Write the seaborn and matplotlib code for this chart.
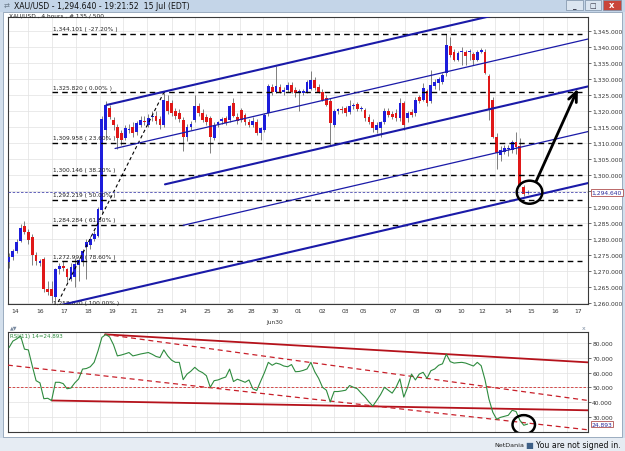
import numpy as np
import pandas as pd
import matplotlib
matplotlib.use("Agg")
import matplotlib.pyplot as plt
import matplotlib.transforms as mtransforms
from matplotlib.patches import Ellipse, Rectangle
import seaborn as sns

# ---------------- data ----------------
opens = [
    1272.8, 1274.3, 1276.4, 1279.4, 1284.0, 1282.3, 1280.5, 1275.0, 1272.6, 1273.8,
    1264.5, 1264.4, 1261.8, 1270.5, 1271.6, 1270.5, 1267.6, 1268.2, 1271.8, 1272.8,
    1277.6, 1278.0, 1280.1, 1281.1, 1289.0, 1314.0, 1321.0, 1317.2, 1315.0, 1313.0,
    1311.5, 1314.0, 1315.0, 1313.5, 1315.6, 1317.0, 1315.6, 1318.0, 1318.5, 1317.5,
    1315.5, 1323.0, 1322.4, 1320.0, 1319.3, 1317.2, 1312.0, 1315.0, 1317.2, 1321.5,
    1319.5, 1318.0, 1317.7, 1311.5, 1316.0, 1316.8, 1317.7, 1317.2, 1322.4, 1318.3,
    1320.3, 1318.8, 1316.7, 1315.8, 1316.7, 1313.0, 1314.0, 1319.3, 1327.4, 1326.1,
    1327.4, 1326.0, 1326.6, 1328.0, 1326.6, 1325.6, 1325.8, 1326.1, 1327.0, 1329.7,
    1327.5, 1326.1, 1324.0, 1323.0, 1315.6, 1320.0, 1320.5, 1320.9, 1319.8, 1321.7,
    1322.1, 1320.6, 1320.3, 1318.3, 1316.7, 1314.0, 1314.6, 1316.7, 1320.0, 1319.0,
    1319.5, 1317.7, 1322.4, 1317.7, 1319.6, 1319.3, 1324.5, 1323.5, 1326.3, 1323.0,
    1327.7, 1328.7, 1329.2, 1331.8, 1340.2, 1338.6, 1336.0, 1338.5, 1338.6, 1338.4,
    1337.8, 1336.0, 1338.6, 1338.6, 1331.0, 1323.5, 1312.0, 1306.2, 1307.2, 1308.0,
    1307.8, 1310.4, 1309.0, 1296.3, 1294.3]
highs = [
    1275.5, 1277.0, 1280.0, 1284.8, 1285.5, 1283.0, 1281.5, 1276.0, 1273.8, 1274.5,
    1267.0, 1267.0, 1271.0, 1272.5, 1273.0, 1271.0, 1272.5, 1274.0, 1274.0, 1277.0,
    1280.0, 1281.0, 1282.5, 1290.0, 1318.5, 1323.0, 1322.0, 1318.0, 1316.0, 1314.0,
    1315.5, 1316.0, 1316.5, 1317.0, 1318.5, 1318.5, 1319.0, 1320.0, 1320.0, 1318.5,
    1325.8, 1325.0, 1323.5, 1321.0, 1320.5, 1318.0, 1316.0, 1317.0, 1325.0, 1322.5,
    1320.5, 1319.0, 1318.5, 1316.5, 1317.0, 1318.0, 1318.5, 1322.0, 1324.0, 1319.5,
    1321.0, 1319.5, 1317.5, 1318.0, 1317.5, 1315.0, 1319.5, 1328.5, 1328.5, 1334.0,
    1328.5, 1327.5, 1329.0, 1329.0, 1327.5, 1327.0, 1327.0, 1329.8, 1332.4, 1330.5,
    1328.5, 1326.8, 1325.0, 1324.0, 1320.5, 1321.0, 1321.5, 1321.5, 1323.5, 1322.5,
    1322.8, 1321.5, 1321.0, 1319.0, 1317.5, 1316.5, 1317.0, 1321.0, 1321.0, 1320.0,
    1320.5, 1324.0, 1323.0, 1320.0, 1320.5, 1324.5, 1325.0, 1328.7, 1327.0, 1332.9,
    1330.0, 1330.5, 1331.8, 1344.1, 1343.0, 1339.5, 1338.8, 1340.0, 1339.0, 1339.5,
    1338.5, 1339.0, 1339.8, 1339.5, 1331.5, 1324.5, 1313.0, 1309.0, 1309.5, 1309.5,
    1311.0, 1313.6, 1311.5, 1296.8, 1295.3]
lows = [
    1271.0, 1273.5, 1275.5, 1279.0, 1281.5, 1278.5, 1272.0, 1272.0, 1271.5, 1263.5,
    1262.5, 1260.0, 1258.6, 1269.0, 1270.0, 1266.5, 1267.0, 1265.0, 1267.0, 1271.5,
    1267.6, 1277.0, 1279.5, 1280.5, 1288.0, 1311.0, 1317.5, 1314.0, 1308.3, 1309.5,
    1311.0, 1313.0, 1312.0, 1312.5, 1315.0, 1315.5, 1315.0, 1317.0, 1316.0, 1314.5,
    1315.0, 1319.0, 1318.5, 1317.5, 1316.5, 1307.4, 1310.5, 1314.0, 1316.5, 1318.5,
    1316.5, 1315.5, 1306.8, 1311.0, 1315.0, 1316.0, 1315.5, 1316.5, 1318.0, 1316.0,
    1316.5, 1315.5, 1315.0, 1315.0, 1312.5, 1311.0, 1313.5, 1318.5, 1325.0, 1325.5,
    1325.5, 1325.0, 1326.0, 1325.5, 1324.5, 1320.0, 1325.0, 1325.5, 1326.5, 1326.5,
    1325.5, 1323.0, 1321.5, 1309.4, 1315.0, 1319.0, 1319.5, 1318.5, 1319.0, 1320.5,
    1320.0, 1320.0, 1317.0, 1316.0, 1313.5, 1313.0, 1312.0, 1316.0, 1318.0, 1317.5,
    1317.0, 1317.0, 1314.0, 1316.5, 1318.0, 1318.5, 1322.5, 1323.0, 1321.5, 1322.5,
    1327.0, 1326.5, 1328.5, 1331.0, 1337.0, 1335.5, 1335.5, 1334.5, 1334.5, 1336.0,
    1334.5, 1335.5, 1338.0, 1331.5, 1317.2, 1311.5, 1302.0, 1304.5, 1306.5, 1306.0,
    1307.0, 1306.5, 1296.5, 1293.5, 1294.0]
closes = [
    1274.3, 1276.4, 1279.2, 1283.5, 1282.3, 1279.6, 1275.0, 1273.0, 1273.2, 1264.5,
    1263.5, 1262.3, 1270.5, 1271.5, 1271.0, 1268.0, 1271.3, 1272.3, 1273.3, 1276.4,
    1279.0, 1280.1, 1281.7, 1289.5, 1317.5, 1322.0, 1318.3, 1315.6, 1311.5, 1311.0,
    1314.6, 1314.5, 1313.0, 1316.2, 1317.2, 1316.5, 1317.7, 1318.5, 1317.0, 1315.5,
    1323.5, 1320.0, 1319.3, 1318.4, 1317.5, 1312.0, 1315.0, 1316.0, 1321.5, 1319.3,
    1317.2, 1316.5, 1312.0, 1315.6, 1316.5, 1317.4, 1316.2, 1321.5, 1318.5, 1317.0,
    1317.2, 1316.7, 1315.8, 1317.0, 1313.0, 1314.6, 1318.8, 1327.7, 1326.1, 1327.7,
    1326.1, 1326.5, 1328.2, 1326.1, 1325.6, 1326.2, 1326.4, 1329.2, 1329.7, 1327.1,
    1326.1, 1323.5, 1322.0, 1316.2, 1320.0, 1320.5, 1320.2, 1319.3, 1321.7, 1322.0,
    1320.6, 1321.0, 1317.7, 1316.7, 1314.6, 1315.8, 1316.5, 1320.0, 1318.8, 1318.0,
    1317.7, 1322.4, 1315.6, 1319.3, 1318.7, 1323.5, 1323.0, 1327.1, 1322.4, 1328.2,
    1329.2, 1330.0, 1331.3, 1340.7, 1337.6, 1336.0, 1338.1, 1338.8, 1337.2, 1338.8,
    1336.0, 1338.6, 1339.2, 1331.8, 1320.5, 1312.0, 1306.8, 1307.8, 1308.5, 1308.3,
    1310.4, 1308.9, 1296.8, 1294.2, 1294.64]
rsi = [
    77.0, 81.5, 83.0, 85.0, 76.0, 75.5, 64.7, 54.5, 53.0, 42.2,
    42.5, 41.0, 53.4, 53.4, 52.5, 49.0, 49.5, 53.0, 55.7, 62.4,
    62.8, 64.0, 67.0, 74.8, 84.0, 86.0, 84.3, 79.0, 71.4, 72.0,
    72.8, 73.7, 71.4, 72.0, 72.7, 73.2, 73.7, 72.5, 71.0, 70.3,
    75.5, 71.4, 68.5, 67.0, 67.0, 55.2, 59.0, 61.0, 63.6, 61.3,
    60.0, 57.9, 50.0, 54.5, 55.0, 56.1, 57.0, 62.4, 53.9, 55.5,
    54.5, 53.4, 55.0, 49.0, 47.8, 54.0, 60.0, 67.0, 65.0, 66.5,
    65.8, 64.5, 64.0, 65.5, 60.6, 60.8, 61.5, 62.5, 67.0, 60.6,
    56.1, 50.0, 48.0, 40.0, 47.1, 47.1, 47.5, 48.0, 51.2, 50.0,
    49.0, 46.0, 43.3, 40.0, 37.2, 41.0, 45.0, 50.0, 48.0, 46.0,
    50.0, 55.7, 43.3, 50.0, 59.0, 55.0, 59.0, 60.2, 56.1, 61.3,
    62.5, 65.0, 66.0, 72.6, 67.5, 66.5, 66.8, 67.0, 66.5, 65.5,
    64.5, 67.0, 64.7, 55.0, 42.0, 33.0, 28.2, 29.5, 30.2, 30.9,
    34.3, 33.5, 27.5, 24.1, 24.893]

date_labels = ["14", "16", "17", "18", "19", "21", "23", "24", "25", "26", "28", "30",
               "01", "02", "03", "05", "07", "08", "09", "10", "12", "14", "15", "16", "17"]
date_pos = [1.6, 8.0, 14.2, 20.4, 26.6, 32.3, 39.0, 45.0, 51.2, 57.1, 62.5, 68.7,
            74.7, 81.1, 86.8, 91.7, 99.2, 105.2, 110.9, 116.8, 122.2, 128.9, 134.9, 141.1, 147.0]

fib_levels = [1344.101, 1325.820, 1309.958, 1300.146, 1292.219, 1284.284, 1272.993, 1258.620]
fib_pcts = ["-27.20%", "0.00%", "23.60%", "38.20%", "50.00%", "61.80%", "78.60%", "100.00%"]
fib_start, fib_end = 11.0, 148.0
fib_swing = [(12.0, 1258.62), (40.0, 1325.82)]

# parallel channel (start bar, start price, width)
chan_slope = 0.28
chan_start_bar = [25.2, 27.4, 40.3, 45.0, 11.4]
chan_start_price = [1321.9, 1308.3, 1297.1, 1284.3, 1258.8]
chan_width = [1.5, 0.9, 1.5, 0.9, 1.5]

last_price = 1294.640
target_bar = 147.0

# RSI trend lines: (x0, y0, x1, y1)
rsi_solid = [(24.8, 86.1, 149.6, 67.0), (11.0, 41.0, 149.6, 34.3)]
rsi_dashed = [(24.8, 86.1, 149.6, 41.0), (-0.3, 65.1, 149.6, 21.0)]

# ---------------- figure ----------------
sns.set_style("white")
plt.rcParams["font.family"] = ["DejaVu Sans"]

W, H = 625, 452
fig = plt.figure(figsize=(6.25, 4.52), dpi=100)
fig.patch.set_facecolor("#d3dfec")

def fx(px):
    return px / W

def fy(py):
    return 1 - py / H

# window chrome (behind the axes)
fig.patches.append(Rectangle((0, fy(13)), 1, 13 / H, transform=fig.transFigure,
                             facecolor="#c4d5e8", edgecolor="none", zorder=-10))
fig.patches.append(Rectangle((fx(3), fy(438)), fx(619), (438 - 13) / H, transform=fig.transFigure,
                             facecolor="white", edgecolor="#8fa2b8", lw=0.6, zorder=-10))
fig.patches.append(Rectangle((0, 0), 1, 13 / H, transform=fig.transFigure,
                             facecolor="#e6ecf3", edgecolor="none", zorder=-10))
for x0, x1, fc in [(566, 583, "#dbe5f0"), (585, 601, "#dbe5f0"), (603, 621, "#c9453a")]:
    fig.patches.append(Rectangle((fx(x0), fy(11)), fx(x1 - x0), 10 / H, transform=fig.transFigure,
                                 facecolor=fc, edgecolor="#7b8ea5", lw=0.5, zorder=-5))
fig.text(fx(574.5), fy(6.5), "_", ha="center", va="center", fontsize=5, color="#334", fontweight="bold")
fig.text(fx(593), fy(6), "\u25a1", ha="center", va="center", fontsize=5, color="#334")
fig.text(fx(612), fy(6), "x", ha="center", va="center", fontsize=6, color="white", fontweight="bold")
fig.text(fx(4), fy(6.5), "\u21c4", ha="left", va="center", fontsize=5, color="#6a7a8a")
fig.text(fx(14), fy(6.5), "XAU/USD - 1,294.640 - 19:21:52  15 Jul (EDT)", ha="left", va="center",
         fontsize=5.6, color="#111111")
fig.text(fx(9), fy(15.5), "XAU/USD , 4 hours , # 135 / 500", ha="left", va="center",
         fontsize=4.2, color="#222222")

# ---------------- main price panel ----------------
ax = fig.add_axes([fx(8), fy(305), fx(580), (305 - 18) / H])
ax.set_facecolor("white")
idx = np.arange(len(closes))
df = pd.DataFrame({"i": idx, "open": opens, "high": highs, "low": lows, "close": closes})
up = df["close"] >= df["open"]
body_lo = np.minimum(df["open"], df["close"])
body_h = np.maximum((df["close"] - df["open"]).abs(), 0.35)

ax.vlines(df["i"], df["low"], df["high"], color="#6b6b6b", lw=0.6, zorder=2)
ax.bar(df["i"], body_h, bottom=body_lo, width=0.72,
       color=np.where(up, "#1d1ddb", "#e01818"), edgecolor="none", zorder=3)

ax.set_xlim(-0.26, 149.6)
ax.set_ylim(1259.7, 1349.4)

# fib levels
for lev, pct in zip(fib_levels, fib_pcts):
    ax.plot([fib_start, fib_end], [lev, lev], color="black", lw=1.0, ls=(0, (4, 3)), zorder=4)
    ax.text(fib_start + 0.3, lev + 0.9, f"{lev:,.3f} ( {pct} )", fontsize=4.2, color="#222222",
            ha="left", va="bottom", zorder=5)
ax.plot([p[0] for p in fib_swing], [p[1] for p in fib_swing], color="black", lw=0.8,
        ls=(0, (3, 2.5)), zorder=4)

# channel lines
end_bar = 149.6
for b0, p0, w in zip(chan_start_bar, chan_start_price, chan_width):
    seg = pd.DataFrame({"x": [b0, end_bar], "y": [p0, p0 + chan_slope * (end_bar - b0)]})
    sns.lineplot(data=seg, x="x", y="y", ax=ax, color="#1a1aa8", lw=w, zorder=5)

# current price line
ax.axhline(last_price, color="#4a4ab0", lw=0.6, ls=(0, (3, 2)), zorder=4)

# circle + arrow
ax.add_patch(Ellipse((idx[-1] + 0.5, last_price), 6.6, 7.2, fill=False, ec="black", lw=1.8, zorder=6))
tgt_price = chan_start_price[2] + chan_slope * (target_bar - chan_start_bar[2])
ax.annotate("", xy=(target_bar, tgt_price), xytext=(idx[-1] + 2.2, last_price + 3.4),
            arrowprops=dict(arrowstyle="->,head_length=0.7,head_width=0.3", color="black",
                            lw=2.0, shrinkA=0, shrinkB=0), zorder=7)

# axes styling
yt = np.arange(1260, 1346, 5)
ax.yaxis.tick_right()
ax.set_yticks(yt)
ax.set_yticklabels(["" if v == 1295 else f"{v:,.3f}" for v in yt])
ax.set_xticks(date_pos)
ax.set_xticklabels(date_labels)
mids = [(a + b) / 2 for a, b in zip(date_pos[:-1], date_pos[1:])]
ax.set_xticks(mids, minor=True)
ax.tick_params(axis="y", which="major", labelsize=4.3, colors="#333333", length=2, width=0.5, pad=1)
ax.tick_params(axis="x", which="both", labelsize=4.3, colors="#333333", length=0, pad=3)
ax.grid(which="major", axis="y", color="#e2e2e2", lw=0.5)
ax.grid(which="minor", axis="x", color="#e2e2e2", lw=0.5)
ax.set_axisbelow(True)
ax.set_xlabel("")
ax.set_ylabel("")
for s in ax.spines.values():
    s.set_color("#3a3a3a")
    s.set_linewidth(0.8)

blend = mtransforms.blended_transform_factory(ax.transAxes, ax.transData)
ax.text(1.006, last_price, f"{last_price:,.3f}", transform=blend, fontsize=4.3, color="#2a2a9a",
        va="center", ha="left",
        bbox=dict(boxstyle="square,pad=0.15", fc="white", ec="#b05050", lw=0.6))
ax.text(date_pos[11], -0.052, "Jun30", transform=mtransforms.blended_transform_factory(ax.transData, ax.transAxes),
        fontsize=4.3, color="#333333", ha="center", va="top")

# separator glyphs
fig.text(fx(10), fy(328), "\u25b2\u25bc", fontsize=3.5, color="#7a8aa0", ha="left", va="center")
fig.text(fx(584), fy(328), "x", fontsize=4.5, color="#7a8aa0", ha="center", va="center")

# ---------------- RSI panel ----------------
ax2 = fig.add_axes([fx(8), fy(433), fx(580), (433 - 333) / H])
ax2.set_facecolor("white")
rsi_df = pd.DataFrame({"i": idx, "rsi": rsi})
for x0, y0, x1, y1 in rsi_solid:
    ax2.plot([x0, x1], [y0, y1], color="#b5121b", lw=1.3, zorder=3)
for x0, y0, x1, y1 in rsi_dashed:
    ax2.plot([x0, x1], [y0, y1], color="#c8202a", lw=0.9, ls=(0, (4, 3)), zorder=3)
ax2.axhline(50, color="#d03030", lw=0.6, ls=(0, (3, 2)), zorder=3)
sns.lineplot(data=rsi_df, x="i", y="rsi", ax=ax2, color="#2e8b3e", lw=0.8, zorder=4)
ax2.add_patch(Ellipse((idx[-1] - 1.0, 24.5), 5.8, 13.0, fill=False, ec="black", lw=1.8, zorder=6))
ax2.set_xlim(-0.26, 149.6)
ax2.set_ylim(19.5, 87.7)
ax2.yaxis.tick_right()
rt = np.arange(30, 81, 10)
ax2.set_yticks(rt)
ax2.set_yticklabels([f"{v:.3f}" for v in rt])
ax2.set_xticks(mids)
ax2.set_xticklabels([])
ax2.tick_params(axis="y", labelsize=4.3, colors="#333333", length=2, width=0.5, pad=1)
ax2.tick_params(axis="x", length=0)
ax2.grid(axis="both", color="#e2e2e2", lw=0.5)
ax2.set_axisbelow(True)
ax2.set_xlabel("")
ax2.set_ylabel("")
for s in ax2.spines.values():
    s.set_color("#3a3a3a")
    s.set_linewidth(0.8)
blend2 = mtransforms.blended_transform_factory(ax2.transAxes, ax2.transData)
ax2.text(1.006, rsi[-1], f"{rsi[-1]:.3f}", transform=blend2, fontsize=4.3, color="#2a2a9a",
         va="center", ha="left",
         bbox=dict(boxstyle="square,pad=0.15", fc="white", ec="#b05050", lw=0.6))
ax2.text(0.004, 0.985, f"RSI(11) 14={rsi[-1]:.3f}", transform=ax2.transAxes, fontsize=4.0,
         color="#2e8b3e", ha="left", va="top")

# ---------------- status bar ----------------
fig.text(fx(621), fy(446), "You are not signed in.", fontsize=5.6, color="#111111", ha="right", va="center")
fig.text(fx(529), fy(446), "\u25a0", fontsize=6, color="#3d5f86", ha="center", va="center")
fig.text(fx(524), fy(446), "NetDania", fontsize=4.6, color="#222222", ha="right", va="center")

fig.savefig("out.png", dpi=100, facecolor=fig.get_facecolor())
